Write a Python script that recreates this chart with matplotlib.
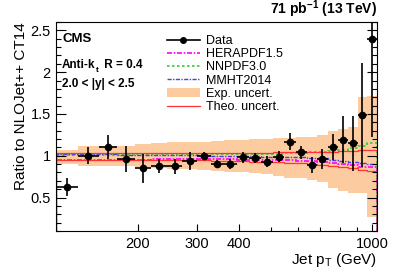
#!/usr/bin/env python3
"""ratio of inclusive jet data to NLOJet++ CT14, 2.0 < |y| < 2.5"""

import numpy as np
import matplotlib
matplotlib.use("Agg")
import matplotlib.pyplot as plt
from matplotlib.lines import Line2D
from matplotlib.ticker import FixedLocator, FixedFormatter, NullFormatter, MultipleLocator

plt.rcParams["font.family"] = ["Liberation Sans", "DejaVu Sans"]
plt.rcParams["mathtext.fontset"] = "custom"
plt.rcParams["mathtext.rm"] = "Liberation Sans"
plt.rcParams["mathtext.it"] = "Liberation Sans"
plt.rcParams["mathtext.bf"] = "Liberation Sans:bold"

### data
edges = [114, 133, 153, 174, 196, 220, 245, 272, 300, 330, 362, 395, 430,
         468, 507, 548, 592, 638, 686, 737, 790, 846, 905, 967, 1032]
data = [0.63, 1.00, 1.105, 0.96, 0.85, 0.88, 0.875, 0.94, 1.00, 0.90, 0.90,
        0.98, 0.97, 0.93, 0.99, 1.17, 1.04, 0.89, 0.96, 1.105, 1.19, 1.15,
        1.49, 2.40]
data_err = [0.11, 0.10, 0.14, 0.16, 0.17, 0.085, 0.09, 0.11, 0.04, 0.05, 0.06,
            0.07, 0.06, 0.07, 0.07, 0.10, 0.08, 0.10, 0.12, 0.16, 0.28, 0.33,
            0.62, 1.17]
exp_up = [1.07, 1.12, 1.12, 1.12, 1.14, 1.15, 1.16, 1.16, 1.17, 1.18, 1.19,
          1.19, 1.20, 1.20, 1.21, 1.21, 1.22, 1.23, 1.25, 1.30, 1.32, 1.34,
          1.70, 1.72]
exp_dn = [0.90, 0.88, 0.88, 0.88, 0.86, 0.85, 0.84, 0.84, 0.83, 0.82, 0.81,
          0.80, 0.79, 0.78, 0.76, 0.74, 0.73, 0.71, 0.69, 0.62, 0.58, 0.56,
          0.55, 0.27]
herapdf = [0.95, 0.95, 0.95, 0.955, 0.955, 0.96, 0.96, 0.96, 0.96, 0.96, 0.96,
           0.955, 0.955, 0.95, 0.95, 0.945, 0.94, 0.935, 0.93, 0.91, 0.90,
           0.89, 0.87, 0.86]
nnpdf = [1.015, 1.015, 1.015, 1.015, 1.02, 1.02, 1.02, 1.02, 1.02, 1.02, 1.02,
         1.02, 1.02, 1.025, 1.025, 1.03, 1.035, 1.04, 1.05, 1.06, 1.07, 1.09,
         1.12, 1.15]
mmht = [1.02, 1.02, 1.02, 1.015, 1.015, 1.01, 1.01, 1.01, 1.005, 1.0, 1.0,
        1.0, 0.995, 0.99, 0.99, 0.985, 0.98, 0.975, 0.97, 0.955, 0.94, 0.93,
        0.91, 0.90]
theo_up = [1.03, 1.03, 1.03, 1.03, 1.03, 1.03, 1.03, 1.03, 1.03, 1.03, 1.03,
           1.035, 1.035, 1.035, 1.04, 1.04, 1.04, 1.045, 1.05, 1.05, 1.055,
           1.06, 1.065, 1.07]
theo_dn = [0.955, 0.955, 0.955, 0.955, 0.95, 0.95, 0.95, 0.945, 0.945, 0.94,
           0.94, 0.935, 0.93, 0.925, 0.92, 0.915, 0.91, 0.90, 0.89, 0.88,
           0.87, 0.85, 0.83, 0.82]

edges = np.array(edges, dtype=float)
centers = np.sqrt(edges[:-1] * edges[1:])

fig = plt.figure(figsize=(3.99, 2.72), dpi=100)
ax = fig.add_axes([0.1396, 0.1507, 0.8045, 0.7684])

# experimental uncertainty band
band = ax.stairs(exp_up, edges, baseline=exp_dn, fill=True, color="#fdcba0",
                 lw=0)
# theory lines
h_hera = ax.stairs(herapdf, edges, color="magenta", lw=1.2,
                   ls=(0, (3, 1, 1, 1)))
h_nn = ax.stairs(nnpdf, edges, color="#33cc33", lw=1.2, ls=(0, (1.5, 1.5)))
h_mm = ax.stairs(mmht, edges, color="#4444dd", lw=1.0, ls=(0, (3, 1, 1, 1)))
h_th = ax.stairs(theo_up, edges, color="#ff3333", lw=0.9)
ax.stairs(theo_dn, edges, color="#ff3333", lw=0.9)

xerr = [centers - edges[:-1], edges[1:] - centers]
ax.errorbar(centers, data, yerr=data_err, xerr=xerr, fmt="o", color="black",
            ms=4.5, lw=1.2, capsize=0)

ax.set_xscale("log")
ax.set_xlim(114, 1032)
ax.set_ylim(0.1, 2.6)
ax.xaxis.set_major_locator(FixedLocator([200, 300, 400, 1000]))
ax.xaxis.set_major_formatter(FixedFormatter(["200", "300", "400", "1000"]))
ax.xaxis.set_minor_locator(FixedLocator([500, 600, 700, 800, 900]))
ax.xaxis.set_minor_formatter(NullFormatter())
ax.yaxis.set_major_locator(FixedLocator([0.5, 1, 1.5, 2, 2.5]))
ax.yaxis.set_major_formatter(FixedFormatter(["0.5", "1", "1.5", "2", "2.5"]))
ax.yaxis.set_minor_locator(MultipleLocator(0.1))
ax.tick_params(which="both", direction="in", right=True, top=False,
               labelsize=10.5, width=0.8)
ax.tick_params(axis="y", which="major", length=7)
ax.tick_params(axis="y", which="minor", length=3.5)
ax.tick_params(axis="x", which="major", length=5, pad=4)
ax.tick_params(axis="x", which="minor", length=3)
for s in ax.spines.values():
    s.set_linewidth(0.8)

ax.set_ylabel("Ratio to NLOJet++ CT14", fontsize=11, loc="top", labelpad=2)
ax.set_xlabel("Jet p$_{\\mathrm{T}}$ (GeV)", fontsize=11, loc="right", labelpad=0)

ax.text(0.02, 0.92, "CMS", transform=ax.transAxes, fontsize=9.5,
        fontweight="bold", va="center")
# "Anti-k" + subscript t + " R = 0.4", built from pieces
t1 = ax.text(0.02, 0.78, "Anti-k", transform=ax.transAxes,
             fontsize=8.5, fontweight="bold", va="baseline")
t2 = ax.annotate("t", xy=(1, 0), xycoords=t1, xytext=(0.3, -2.5),
                 textcoords="offset points", fontsize=6, fontweight="bold",
                 va="bottom")
ax.annotate(" R = 0.4", xy=(1, 0), xycoords=t1, xytext=(4.2, 0),
            textcoords="offset points", fontsize=8.5, fontweight="bold",
            va="bottom")
ax.text(0.02, 0.705, "2.0 < |y| < 2.5", transform=ax.transAxes,
        fontsize=8.5, fontweight="bold", va="center")
fig.text(0.944, 0.965, "71 pb$^{\\mathbf{-1}}$ (13 TeV)", ha="right",
         va="center", fontsize=10, fontweight="bold")

h_data = Line2D([], [], color="black", lw=1.2, marker="o", ms=4)
ax.legend([h_data, h_hera, h_nn, h_mm, band, h_th],
          ["Data", "HERAPDF1.5", "NNPDF3.0", "MMHT2014", "Exp. uncert.",
           "Theo. uncert."],
          loc="upper left", bbox_to_anchor=(0.32, 0.98), frameon=False,
          fontsize=9, handlelength=2.6, labelspacing=0.1, borderpad=0.2,
          handletextpad=0.5)

fig.savefig("out.png", dpi=100)
